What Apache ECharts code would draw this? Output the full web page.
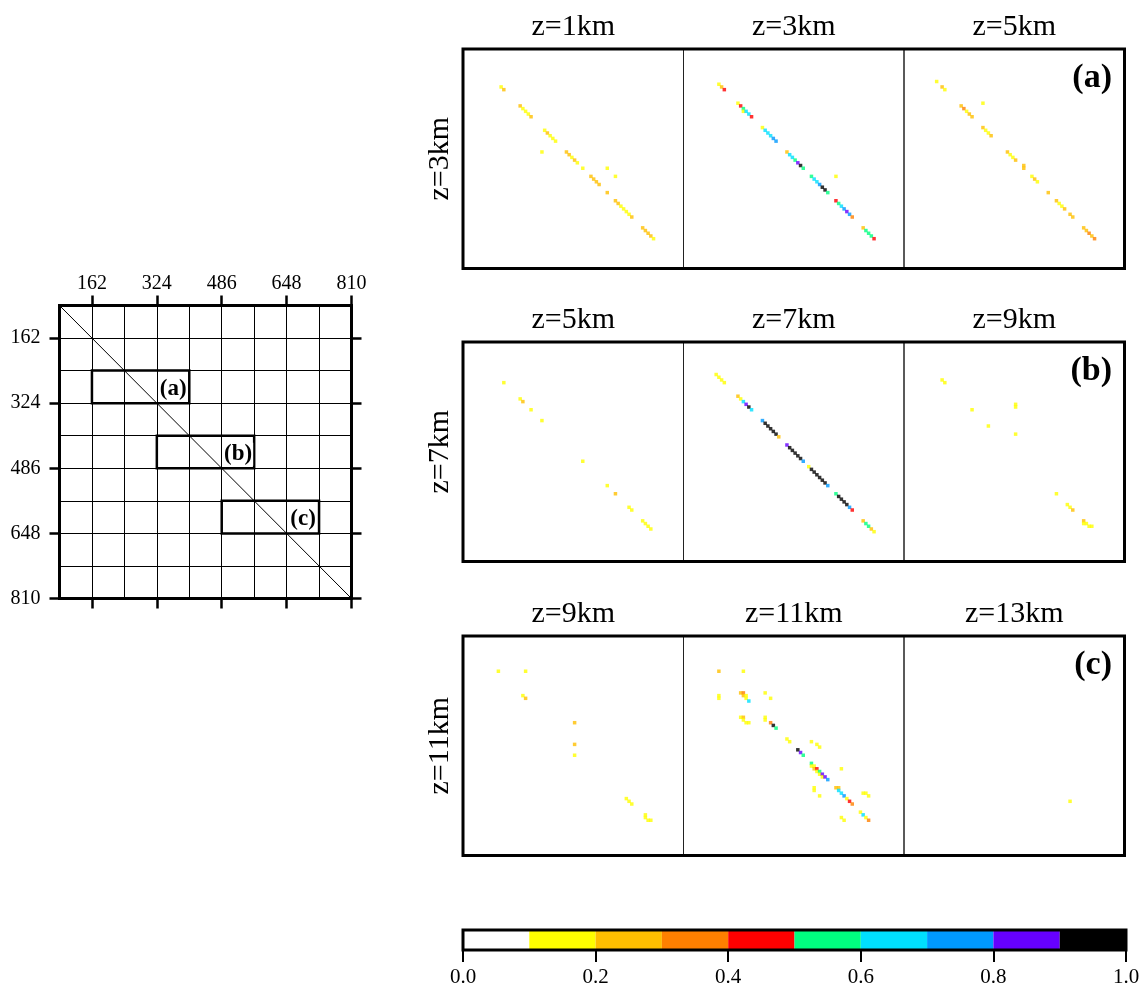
<!DOCTYPE html>
<html><head><meta charset="utf-8">
<script src="https://cdn.jsdelivr.net/npm/echarts@6/dist/echarts.min.js"></script>
<style>html,body{margin:0;padding:0;background:#fff}#c{width:1148px;height:989px}</style>
</head><body><div id="c"></div>
<script>
// ---------------- data ----------------
const colTitles = [['z=1km','z=3km','z=5km'],['z=5km','z=7km','z=9km'],['z=9km','z=11km','z=13km']];
const rowTitles = ['z=3km','z=7km','z=11km'];
const panelTags = ['(a)','(b)','(c)'];
const binEdges = [0,0.1,0.2,0.3,0.4,0.5,0.6,0.7,0.8,0.9,1.0];
const binColors = ['#ffffff','#ffff00','#ffbf00','#ff8000','#ff0000','#00ff80','#00e0ff','#0099ff','#6600ff','#000000'];
const cbTicks = [0,0.2,0.4,0.6,0.8,1.0];
const schemTicks = [162,324,486,648,810];
const schemRange = [81,810];
const schemDiag = [[81,81],[810,810]];
const schemBoxes = [[162,243,405,324],[324,405,567,486],[486,567,729,648]];
const schemLabels = [[365,289,'(a)'],[527,451,'(b)'],[689,613,'(c)']];

// panel points: [x, y, value]
const panelA1 = [[14,14,0.15],[15,15,0.25],[21,21,0.25],[22,22,0.15],[23,23,0.15],[24,24,0.15],[25,25,0.25],
 [30,30,0.15],[31,31,0.25],[32,32,0.15],[33,33,0.15],[34,34,0.15],[29,38,0.15],
 [38,38,0.25],[39,39,0.25],[40,40,0.15],[41,41,0.25],[42,42,0.15],[44,44,0.15],
 [47,47,0.25],[48,48,0.25],[49,49,0.25],[50,50,0.25],[53,44,0.15],[56,47,0.15],[53,53,0.25],
 [56,56,0.25],[57,57,0.25],[58,58,0.15],[59,59,0.15],[60,60,0.15],[61,61,0.15],[62,62,0.25],
 [66,66,0.25],[67,67,0.25],[68,68,0.25],[69,69,0.25],[70,70,0.15]];
const panelA2 = [[13,13,0.15],[14,14,0.25],[15,15,0.45],
 [20,20,0.15],[21,21,0.45],[22,22,0.55],[22,23,0.15],[23,23,0.65],[24,24,0.65],[25,25,0.45],
 [29,29,0.15],[30,30,0.65],[31,31,0.65],[32,32,0.65],[33,33,0.75],[34,34,0.75],
 [38,38,0.25],[39,39,0.65],[40,40,0.65],[41,41,0.55],[42,42,0.85],[43,43,0.95],[44,44,0.55],
 [47,47,0.55],[48,48,0.65],[49,49,0.65],[50,50,0.75],[51,51,0.95],[52,52,0.95],[53,53,0.55],
 [56,47,0.15],
 [56,56,0.45],[57,57,0.55],[58,58,0.65],[59,59,0.75],[60,60,0.85],[61,61,0.75],[62,62,0.35],
 [66,66,0.25],[67,67,0.55],[68,68,0.55],[69,69,0.55],[70,70,0.45]];
const panelA3 = [[12,12,0.15],[14,14,0.25],[15,15,0.15],[29,20,0.15],
 [21,21,0.25],[22,22,0.35],[23,23,0.15],[24,24,0.25],[25,25,0.25],
 [29,29,0.25],[30,30,0.15],[31,31,0.15],[32,32,0.25],
 [38,38,0.25],[39,39,0.15],[40,40,0.15],[41,41,0.25],[44,43,0.25],[44,44,0.25],
 [47,47,0.15],[48,48,0.25],[49,49,0.15],[53,53,0.25],
 [56,56,0.25],[57,57,0.15],[58,58,0.15],[59,59,0.25],[61,61,0.25],[62,62,0.25],
 [66,66,0.25],[67,67,0.25],[68,68,0.35],[69,69,0.25],[70,70,0.35]];
const panelB1 = [[15,15,0.15],[21,21,0.15],[22,22,0.25],[25,25,0.15],[29,29,0.15],[44,44,0.15],
 [53,53,0.15],[56,56,0.25],[61,61,0.15],[62,62,0.15],[66,66,0.15],[67,67,0.15],[68,68,0.15],[69,69,0.15]];
const panelB2 = [[12,12,0.15],[13,13,0.15],[14,14,0.15],[15,15,0.15],
 [20,20,0.25],[21,21,0.15],[22,22,0.65],[23,23,0.85],[24,24,0.95],[25,25,0.65],
 [29,29,0.75],[30,30,0.95],[31,31,0.95],[32,32,0.95],[33,33,0.95],[34,34,0.95],[35,35,0.25],
 [38,38,0.85],[39,39,0.95],[40,40,0.95],[41,41,0.95],[42,42,0.95],[43,43,0.95],[44,44,0.75],
 [46,46,0.15],[47,47,0.95],[48,48,0.95],[49,49,0.95],[50,50,0.95],[51,51,0.95],[52,52,0.95],[53,53,0.75],
 [56,56,0.55],[57,57,0.95],[58,58,0.95],[59,59,0.95],[60,60,0.95],[61,61,0.75],[62,62,0.45],
 [66,66,0.25],[67,67,0.55],[68,68,0.55],[69,69,0.25],[70,70,0.15]];
const panelB3 = [[14,14,0.15],[15,15,0.15],[25,25,0.15],[41,23,0.15],[41,24,0.15],[31,31,0.15],[41,34,0.15],
 [56,56,0.15],[60,60,0.15],[61,61,0.15],[62,62,0.25],[66,66,0.25],[66,67,0.15],[67,67,0.15],[68,68,0.15],[69,68,0.15]];
const panelC1 = [[13,13,0.15],[23,13,0.15],[22,22,0.15],[23,23,0.25],[41,32,0.25],[41,40,0.25],[41,44,0.15],
 [60,60,0.15],[61,61,0.15],[62,62,0.15],[67,66,0.15],[67,67,0.15],[68,68,0.15],[69,68,0.15]];
const panelC2 = [[13,13,0.25],[22,13,0.15],[13,22,0.15],[13,23,0.15],
 [21,21,0.25],[22,21,0.35],[22,22,0.25],[23,22,0.15],[23,23,0.15],[24,24,0.65],
 [30,21,0.15],[32,23,0.15],
 [21,30,0.15],[22,30,0.25],[22,31,0.15],[23,32,0.15],[24,32,0.15],[30,30,0.15],[30,31,0.15],
 [32,32,0.35],[33,33,0.95],[34,34,0.55],[38,38,0.15],[39,39,0.15],
 [47,39,0.15],[49,40,0.15],[50,41,0.15],
 [42,42,0.95],[43,43,0.85],[44,44,0.55],
 [47,47,0.55],[47,48,0.15],[48,48,0.15],[48,49,0.25],[49,49,0.45],[49,50,0.15],[50,50,0.55],
 [50,51,0.15],[51,51,0.85],[51,52,0.15],[52,52,0.85],[53,53,0.75],
 [58,49,0.15],[48,56,0.15],[48,57,0.15],[50,59,0.15],
 [56,56,0.25],[57,56,0.25],[57,57,0.65],[58,58,0.65],[59,59,0.75],[60,60,0.15],[61,61,0.45],[62,62,0.35],
 [66,58,0.15],[67,58,0.15],[68,59,0.15],
 [65,65,0.15],[66,66,0.65],[67,67,0.15],[68,68,0.35],
 [58,67,0.15],[59,68,0.15]];
const panelC3 = [[61,61,0.15]];
const panelData = [panelA1,panelA2,panelA3,panelB1,panelB2,panelB3,panelC1,panelC2,panelC3];

// ---------------- layout ----------------
const FONT = '"Liberation Serif", "Times New Roman", serif';
const rowTops = [49, 342, 636];
const subLefts = [463, 683.5, 904];
const subW = 220.5, subH = 219.5;

const grids = [], xAxes = [], yAxes = [], series = [], titles = [];
const hiddenAxis = (g, extra) => Object.assign({gridIndex: g, type: 'value', show: false, min: 0, max: 1}, extra || {});

// subpanels 0..8
for (let r = 0; r < 3; r++) {
  for (let c = 0; c < 3; c++) {
    const k = r * 3 + c;
    grids.push({left: subLefts[c], top: rowTops[r], width: subW, height: subH, show: true,
      borderWidth: 1, borderColor: '#222', backgroundColor: 'transparent', z: 5});
    xAxes.push({gridIndex: k, type: 'value', min: 0, max: 81, position: 'top',
      axisLine: {show: false}, axisTick: {show: false}, axisLabel: {show: false}, splitLine: {show: false},
      name: colTitles[r][c], nameLocation: 'middle', nameGap: 7,
      nameTextStyle: {fontSize: 30, fontFamily: FONT, color: '#000'}});
    yAxes.push({gridIndex: k, type: 'value', min: 0, max: 81, inverse: true, position: 'left',
      axisLine: {show: false}, axisTick: {show: false}, axisLabel: {show: false}, splitLine: {show: false},
      name: c === 0 ? rowTitles[r] : '', nameLocation: 'middle', nameGap: 8,
      nameTextStyle: {fontSize: 30, fontFamily: FONT, color: '#000'}});
    series.push({type: 'scatter', xAxisIndex: k, yAxisIndex: k, symbol: 'rect', symbolSize: 3.5,
      data: panelData[k], silent: true});
  }
}
// row frames 9..11
for (let r = 0; r < 3; r++) {
  const g = grids.length;
  grids.push({left: subLefts[0], top: rowTops[r], width: subW * 3, height: subH, show: true,
    borderWidth: 3, borderColor: '#000', backgroundColor: 'transparent', z: 10});
  xAxes.push(hiddenAxis(g));
  yAxes.push(hiddenAxis(g));
  titles.push({text: panelTags[r], right: 36, top: rowTops[r] + 12, padding: 0,
    textStyle: {fontSize: 34, fontWeight: 'bold', fontFamily: FONT, color: '#000'}});
}
// schematic grid
const gS = grids.length;
grids.push({left: 59.5, top: 305.5, width: 292, height: 293, show: true, borderWidth: 3,
  borderColor: '#000', backgroundColor: 'transparent', z: 10});
const sBase = {gridIndex: gS, type: 'value', min: schemRange[0], max: schemRange[1]};
const tickStyle = {show: true, customValues: schemTicks, length: 10, lineStyle: {width: 2.5, color: '#000'}};
const labStyle = {fontSize: 20, fontFamily: FONT, color: '#000'};
const xS1 = xAxes.length;
xAxes.push(Object.assign({}, sBase, {position: 'top', interval: 81, axisLine: {show: false}, axisTick: {show: false},
  axisLabel: {show: false}, splitLine: {show: true, lineStyle: {color: '#000', width: 1}}}));
xAxes.push(Object.assign({}, sBase, {position: 'top', axisLine: {show: false}, axisTick: tickStyle,
  axisLabel: Object.assign({show: true, customValues: schemTicks, margin: 12}, labStyle), splitLine: {show: false}}));
xAxes.push(Object.assign({}, sBase, {position: 'bottom', axisLine: {show: false}, axisTick: tickStyle,
  axisLabel: {show: false}, splitLine: {show: false}}));
const yS1 = yAxes.length;
yAxes.push(Object.assign({}, sBase, {position: 'left', inverse: true, interval: 81, axisLine: {show: false}, axisTick: {show: false},
  axisLabel: {show: false}, splitLine: {show: true, lineStyle: {color: '#000', width: 1}}}));
yAxes.push(Object.assign({}, sBase, {position: 'left', inverse: true, axisLine: {show: false}, axisTick: tickStyle,
  axisLabel: Object.assign({show: true, customValues: schemTicks, margin: 19}, labStyle), splitLine: {show: false}}));
yAxes.push(Object.assign({}, sBase, {position: 'right', inverse: true, axisLine: {show: false}, axisTick: tickStyle,
  axisLabel: {show: false}, splitLine: {show: false}}));

series.push({type: 'line', xAxisIndex: xS1, yAxisIndex: yS1, data: schemDiag, symbol: 'none', silent: true,
  lineStyle: {color: '#000', width: 1}, z: 3});
series.push({type: 'custom', xAxisIndex: xS1, yAxisIndex: yS1, data: schemBoxes, silent: true, z: 4,
  renderItem: (p, api) => {
    const a = api.coord([api.value(0), api.value(1)]);
    const b = api.coord([api.value(2), api.value(3)]);
    return {type: 'rect', shape: {x: Math.min(a[0], b[0]), y: Math.min(a[1], b[1]),
      width: Math.abs(b[0] - a[0]), height: Math.abs(b[1] - a[1])},
      style: {fill: 'none', stroke: '#000', lineWidth: 2.5}};
  }});
series.push({type: 'custom', xAxisIndex: xS1, yAxisIndex: yS1, silent: true, z: 6,
  data: schemLabels.map(d => [d[0], d[1]]),
  renderItem: (p, api) => {
    const pt = api.coord([api.value(0), api.value(1)]);
    return {type: 'text', x: pt[0], y: pt[1],
      style: {text: schemLabels[p.dataIndex][2], font: 'bold 23px ' + FONT, fill: '#000',
        align: 'center', verticalAlign: 'middle', backgroundColor: '#fff', padding: [0, 1]}};
  }});

// colorbar grid
const gC = grids.length;
grids.push({left: 463, top: 930, width: 663, height: 20, show: true, borderWidth: 3,
  borderColor: '#000', backgroundColor: 'transparent', z: 10});
const xC = xAxes.length;
xAxes.push({gridIndex: gC, type: 'value', min: 0, max: 1, interval: 0.2, position: 'bottom',
  axisLine: {show: false}, splitLine: {show: false},
  axisTick: {show: true, length: 12, lineStyle: {width: 2, color: '#000'}},
  axisLabel: {show: true, margin: 17, fontSize: 21, fontFamily: FONT, color: '#000',
    formatter: v => cbTicks.includes(+v.toFixed(1)) ? v.toFixed(1) : ''}});
const yC = yAxes.length;
yAxes.push(hiddenAxis(gC));
series.push({type: 'custom', xAxisIndex: xC, yAxisIndex: yC, silent: true,
  data: binColors.map((c, i) => [binEdges[i], binEdges[i + 1], i]),
  renderItem: (p, api) => {
    const a = api.coord([api.value(0), 1]);
    const b = api.coord([api.value(1), 0]);
    return {type: 'rect', shape: {x: a[0], y: a[1], width: b[0] - a[0], height: b[1] - a[1]},
      style: {fill: binColors[api.value(2)]}};
  }});

const chart = echarts.init(document.getElementById('c'), null, {renderer: 'canvas'});
chart.setOption({
  animation: false,
  backgroundColor: '#fff',
  title: titles,
  grid: grids,
  xAxis: xAxes,
  yAxis: yAxes,
  visualMap: {type: 'piecewise', show: false, dimension: 2, seriesIndex: [0,1,2,3,4,5,6,7,8],
    pieces: binColors.map((c, i) => ({gte: binEdges[i], lt: binEdges[i + 1] + (i === 9 ? 0.001 : 0), color: c}))},
  series: series
});
</script></body></html>
